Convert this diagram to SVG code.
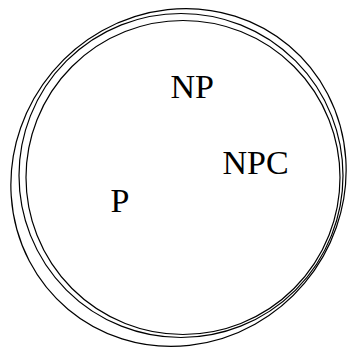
<svg xmlns="http://www.w3.org/2000/svg" width="347" height="351" viewBox="0 0 347 351">
<style>
.set{fill:none;stroke:#000;stroke-width:1.2}
.lbl{font-family:"Liberation Serif","Times New Roman",serif;font-size:34px;fill:#000}
</style>
<rect width="347" height="351" fill="#fff"/>
<g id="NP">
<ellipse class="set" cx="178.5" cy="177.5" rx="172" ry="164.5" transform="rotate(-50 178.5 177.5)"/>
<text class="lbl" x="170.5" y="98">NP</text>
</g>
<g id="NPC">
<circle class="set" cx="181" cy="175.5" r="162"/>
<text class="lbl" x="222.5" y="174">NPC</text>
</g>
<g id="P">
<circle class="set" cx="183" cy="177.5" r="157"/>
<text class="lbl" x="110.5" y="211.5">P</text>
</g>
</svg>
